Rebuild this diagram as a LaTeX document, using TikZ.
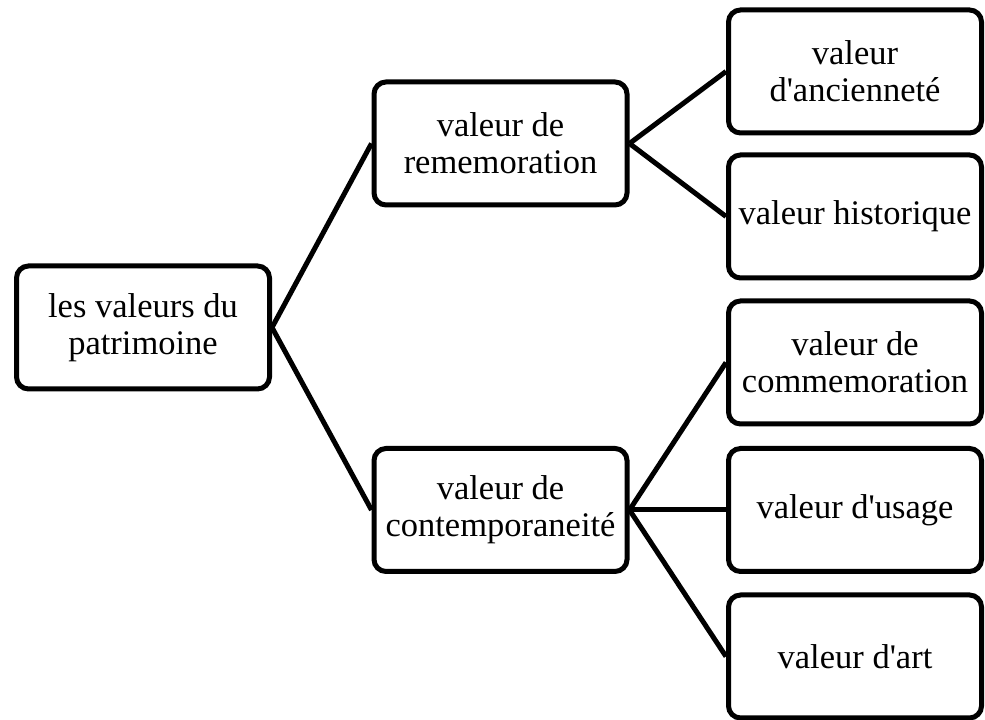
\documentclass[tikz,border=0pt]{standalone}
\usepackage{fontspec}
\setmainfont{Liberation Serif}
\begin{document}
\begin{tikzpicture}[x=1pt,y=1pt]
    \tikzstyle{val}=[draw,line width=5pt,rounded corners=12pt,minimum width=253pt,minimum height=123pt,align=center,inner sep=0pt,font=\fontsize{34.5}{37}\selectfont]
    \tikzstyle{link}=[line width=5pt]
    \useasboundingbox (0,0) rectangle (985,720);
    \node[val] (root) at (143,392.5) {les valeurs du\\patrimoine};
    \node[val] (rem) at (500.5,576.5) {valeur de\\rememoration};
    \node[val] (con) at (500.5,210) {valeur de\\contemporaneité};
    \node[val] (anc) at (855,648.5) {valeur\\d\textquotesingle ancienneté};
    \node[val] (his) at (855,503.5) {valeur historique};
    \node[val] (com) at (855,357.5) {valeur de\\commemoration};
    \node[val] (usa) at (855,210) {valeur d\textquotesingle usage};
    \node[val] (art) at (855,63.5) {valeur d\textquotesingle art};
    \draw[link] (root.east) -- (rem.west);
    \draw[link] (root.east) -- (con.west);
    \draw[link] (rem.east) -- (anc.west);
    \draw[link] (rem.east) -- (his.west);
    \draw[link] (con.east) -- (com.west);
    \draw[link] (con.east) -- (usa.west);
    \draw[link] (con.east) -- (art.west);
\end{tikzpicture}
\end{document}
